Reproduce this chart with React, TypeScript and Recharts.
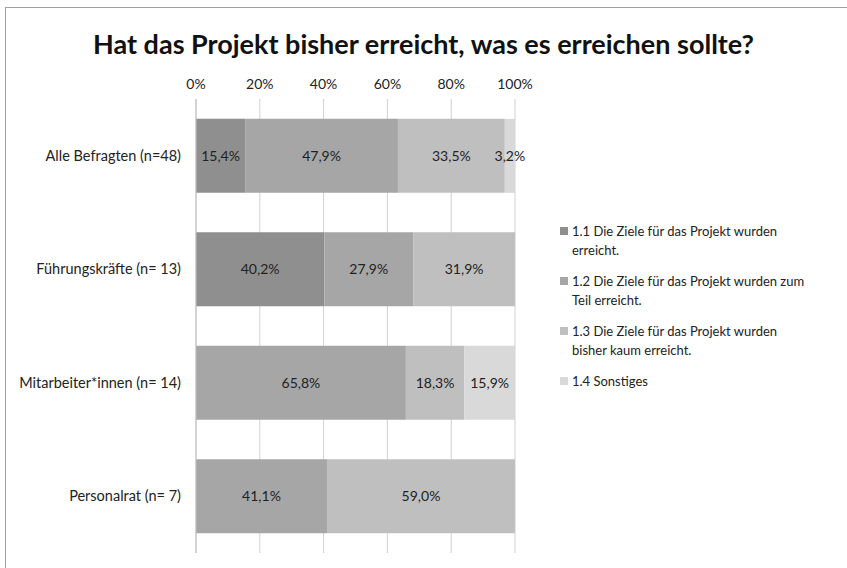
import React from 'react';
import { BarChart, Bar, XAxis, YAxis, CartesianGrid, LabelList } from 'recharts';

const categories = ['Alle Befragten (n=48)', 'Führungskräfte (n= 13)', 'Mitarbeiter*innen (n= 14)', 'Personalrat (n= 7)'];
const s1 = [15.4, 40.2, null, null];
const s2 = [47.9, 27.9, 65.8, 41.1];
const s3 = [33.5, 31.9, 18.3, 59.0];
const s4 = [3.2, null, 15.9, null];
const seriesNames = [
  '1.1 Die Ziele für das Projekt wurden erreicht.',
  '1.2 Die Ziele für das Projekt wurden zum Teil erreicht.',
  '1.3 Die Ziele für das Projekt wurden bisher kaum erreicht.',
  '1.4 Sonstiges',
];
const xTicks = [0, 0.2, 0.4, 0.6, 0.8, 1];
const colors = ['#8f8f8f', '#a6a6a6', '#bfbfbf', '#d9d9d9'];
const keys = ['s1', 's2', 's3', 's4'];

const data = categories.map((c, i) => ({ name: c, s1: s1[i], s2: s2[i], s3: s3[i], s4: s4[i] }));

const FONT = 'Lato, "Open Sans", sans-serif';

const fmt = (v: any) => (v === null || v === undefined || v === 0 ? '' : Number(v).toFixed(1).replace('.', ',') + '%');

const LegendBox = () => (
  <div style={{ position: 'absolute', left: 560, top: 222, width: 280, fontFamily: FONT, fontSize: 13, color: '#222', lineHeight: '18.5px' }}>
    {seriesNames.map((n, i) => (
      <div key={n} style={{ display: 'flex', alignItems: 'flex-start', marginBottom: 13 }}>
        <div style={{ width: 8, height: 8, background: colors[i], marginTop: 5, marginRight: 4, flexShrink: 0 }} />
        <div style={{ width: 240 }}>{n}</div>
      </div>
    ))}
  </div>
);

export default function App() {
  return (
    <div style={{ position: 'absolute', left: 0, top: 0, width: 847, height: 568, background: '#fff', overflow: 'hidden' }}>
      <div style={{ position: 'absolute', left: 5, top: 7, width: 850, height: 570, borderLeft: '1px solid #a0a0a0', borderTop: '1px solid #a0a0a0' }} />
      <div style={{ position: 'absolute', left: 0, top: 26, width: 847, textAlign: 'center', fontFamily: FONT, fontWeight: 700, fontSize: 27, lineHeight: '36px', color: '#111' }}>
        Hat das Projekt bisher erreicht, was es erreichen sollte?
      </div>
      <div style={{ position: 'absolute', left: 0, top: 0 }}>
        <BarChart
          width={847}
          height={568}
          data={data}
          layout="vertical"
          stackOffset="expand"
          barCategoryGap="17.5%"
          margin={{ top: 69, right: 332, bottom: 15, left: 0 }}
        >
          <CartesianGrid horizontal={false} vertical={true} stroke="#d0d0d0" strokeWidth={1} />
          <XAxis
            type="number"
            orientation="top"
            domain={[0, 1]}
            ticks={xTicks}
            tickFormatter={(v: number) => Math.round(v * 100) + '%'}
            axisLine={false}
            tickLine={false}
            tickSize={0}
            tickMargin={10}
            height={30}
            tick={{ fontFamily: FONT, fontSize: 14, fill: '#222' }}
          />
          <YAxis
            type="category"
            dataKey="name"
            width={196}
            axisLine={{ stroke: '#c0c0c0' }}
            tickLine={false}
            tickSize={0}
            tickMargin={15}
            tick={{ fontFamily: FONT, fontSize: 14.5, fill: '#222' }}
          />
          {keys.map((k, i) => (
            <Bar key={k} dataKey={k} stackId="a" fill={colors[i]} name={seriesNames[i]} isAnimationActive={false}>
              <LabelList dataKey={k} position="center" formatter={fmt} style={{ fontFamily: FONT, fontSize: 14, fill: '#222' }} />
            </Bar>
          ))}
        </BarChart>
      </div>
      <LegendBox />
    </div>
  );
}
